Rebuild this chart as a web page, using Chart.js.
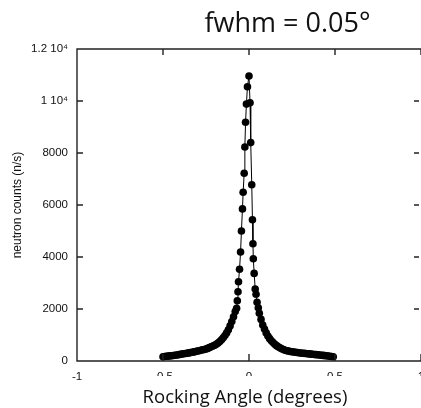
<!DOCTYPE html>
<html>
<head>
<meta charset="utf-8">
<script src="https://cdn.jsdelivr.net/npm/chart.js@4"></script>
<style>
  html, body { margin: 0; padding: 0; background: #fff; }
  #wrap { width: 421px; height: 408px; }
</style>
</head>
<body>
<div id="wrap"><canvas id="rocking-curve"></canvas></div>
<script>
// rocking angle (degrees) and measured neutron counts (n/s)
const angleDeg = [
    -0.50, -0.49, -0.48, -0.47, -0.46, -0.45, -0.44, -0.43, -0.42, -0.41,
    -0.40, -0.39, -0.38, -0.37, -0.36, -0.35, -0.34, -0.33, -0.32, -0.31,
    -0.30, -0.29, -0.28, -0.27, -0.26, -0.25, -0.24, -0.23, -0.22, -0.21,
    -0.20, -0.19, -0.18, -0.17, -0.16, -0.15, -0.14, -0.13, -0.12, -0.11,
    -0.10, -0.09, -0.08,
    -0.072, -0.068, -0.064, -0.061, -0.055, -0.049, -0.044, -0.038, -0.034,
    -0.028, -0.024, -0.020, -0.015, -0.009,
    0,
    0.006, 0.010, 0.016, 0.020, 0.023, 0.025, 0.030, 0.036, 0.041, 0.047,
    0.054, 0.06, 0.07, 0.08, 0.09, 0.10, 0.11, 0.12, 0.13, 0.14,
    0.15, 0.16, 0.17, 0.18, 0.19, 0.20, 0.21, 0.22, 0.23, 0.24,
    0.25, 0.26, 0.27, 0.28, 0.29, 0.30, 0.31, 0.32, 0.33, 0.34,
    0.35, 0.36, 0.37, 0.38, 0.39, 0.40, 0.41, 0.42, 0.43, 0.44,
    0.45, 0.46, 0.47, 0.48, 0.49
];
const counts = [
    165, 172, 180, 188, 196, 204, 212, 222, 232, 243,
    255, 265, 276, 288, 300, 312, 324, 335, 350, 365,
    380, 396, 413, 430, 445, 460, 485, 515, 545, 575,
    605, 640, 690, 750, 815, 890, 980, 1080, 1200, 1350,
    1520, 1700, 1900,
    2030, 2320, 2665, 3050, 3530, 4190, 5000, 5850, 6490,
    7220, 8230, 9180, 9880, 10550,
    10960,
    9935, 8400, 6780, 5435, 4510, 3935, 3370, 2770, 2565, 2260,
    2050, 1835, 1600, 1385, 1230, 1080, 960, 860, 780, 710,
    640, 590, 545, 505, 470, 440, 415, 395, 380, 367,
    355, 345, 335, 325, 316, 308, 300, 294, 287, 280,
    273, 266, 259, 252, 245, 238, 231, 224, 216, 208,
    200, 190, 180, 170, 165
];

const xTicks = [-1, -0.5, 0, 0.5, 1];
const xTickLabels = ['-1', '-0.5', '0', '0.5', '1'];
const yTicks = [0, 2000, 4000, 6000, 8000, 10000, 12000];
const yTickLabels = ['0', '2000', '4000', '6000', '8000', '1 10\u2074', '1.2 10\u2074'];

const points = angleDeg.map((a, i) => ({ x: a, y: counts[i] }));

const tickFont = { family: '"Liberation Sans", Arial, sans-serif', size: 11.5 };

// box frame with inward ticks, x title in its own white text box, fwhm note
const frame = {
    id: 'frame',
    afterDraw(chart) {
        const { ctx, chartArea: a, scales: { x, y } } = chart;
        ctx.save();
        ctx.strokeStyle = '#222';
        ctx.lineWidth = 1.4;
        ctx.beginPath();
        ctx.moveTo(a.right, a.top);
        ctx.lineTo(a.left, a.top);
        ctx.lineTo(a.left, a.bottom);
        ctx.lineTo(a.right, a.bottom);
        xTicks.forEach(v => {
            const px = x.getPixelForValue(v);
            ctx.moveTo(px, a.top);
            ctx.lineTo(px, a.top + 6);
            ctx.moveTo(px, a.bottom);
            ctx.lineTo(px, a.bottom - 7);
        });
        yTicks.forEach(v => {
            const py = y.getPixelForValue(v);
            ctx.moveTo(a.left, py);
            ctx.lineTo(a.left + 6, py);
            ctx.moveTo(a.right - 2, py);
            ctx.lineTo(a.right - 7, py);
        });
        ctx.stroke();

        ctx.fillStyle = '#fff';
        ctx.fillRect(95, 376, chart.width - 95, chart.height - 376);
        ctx.fillStyle = '#111';
        ctx.textAlign = 'center';
        ctx.textBaseline = 'alphabetic';
        ctx.font = '18.5px "Open Sans", sans-serif';
        ctx.fillText('Rocking Angle (degrees)', 245, 403);
        ctx.font = '27px "Open Sans", sans-serif';
        ctx.fillText('fwhm = 0.05\u00b0', 287.5, 32);
        ctx.restore();
    }
};

const ctx = document.getElementById('rocking-curve').getContext('2d');
const rockingChart = new Chart(ctx, {
    type: 'scatter',
    data: {
        datasets: [{
            label: 'neutron counts',
            data: points,
            showLine: true,
            borderColor: '#000',
            borderWidth: 1,
            backgroundColor: '#000',
            pointRadius: 3.8,
            pointBorderWidth: 0,
            pointHoverRadius: 3.8
        }]
    },
    options: {
        responsive: true,
        maintainAspectRatio: false,
        animation: false,
        layout: {
            autoPadding: false,
            padding: { top: 49, right: -2, bottom: 0, left: 0 }
        },
        plugins: {
            legend: { display: false },
            tooltip: { enabled: false }
        },
        scales: {
            x: {
                type: 'linear',
                min: -1,
                max: 1,
                grid: { display: false, drawTicks: false },
                border: { display: false },
                afterBuildTicks: s => { s.ticks = xTicks.map(v => ({ value: v })); },
                ticks: {
                    font: tickFont,
                    color: '#111',
                    padding: 9,
                    maxRotation: 0,
                    callback: v => xTickLabels[xTicks.indexOf(v)]
                },
                afterFit: s => {
                    s.height = 47;
                    s.paddingLeft = 0;
                    s.paddingRight = 0;
                }
            },
            y: {
                type: 'linear',
                min: 0,
                max: 12000,
                grid: { display: false, drawTicks: false },
                border: { display: false },
                afterBuildTicks: s => { s.ticks = yTicks.map(v => ({ value: v })); },
                ticks: {
                    font: tickFont,
                    color: '#111',
                    padding: 9,
                    callback: v => yTickLabels[yTicks.indexOf(v)]
                },
                title: {
                    display: true,
                    text: 'neutron counts (n/s)',
                    color: '#111',
                    font: { family: '"Liberation Sans", Arial, sans-serif', size: 12 },
                    padding: { top: 10, bottom: 0 }
                },
                afterFit: s => {
                    s.width = 77;
                    s.paddingTop = 0;
                    s.paddingBottom = 0;
                }
            }
        }
    },
    plugins: [frame]
});
</script>
</body>
</html>
